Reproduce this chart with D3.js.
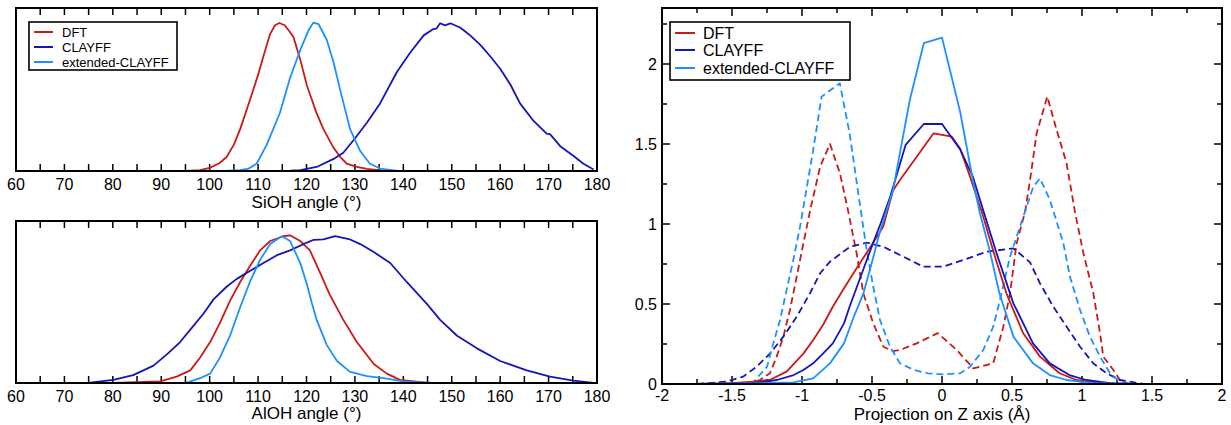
<!DOCTYPE html>
<html>
<head>
<meta charset="utf-8">
<script src="https://cdn.jsdelivr.net/npm/d3@7"></script>
<style>
  html, body { margin: 0; padding: 0; background: #fff; }
  svg { display: block; font-family: "Liberation Sans", Arial, Helvetica, sans-serif; }
</style>
</head>
<body>
<svg id="chart" width="1231" height="425"></svg>
<script>
// ---------------- DATA ----------------
const seriesNames = ["DFT", "CLAYFF", "extended-CLAYFF"];
const seriesColors = ["#c81a1a", "#1616b8", "#1e90ff"];

const angleTicks = [60, 70, 80, 90, 100, 110, 120, 130, 140, 150, 160, 170, 180];
const projTicksX = [-2, -1.5, -1, -0.5, 0, 0.5, 1, 1.5, 2];
const projTicksY = [0, 0.5, 1, 1.5, 2];

// SiOH angle distributions (normalised)
const siohDFT = [[95,0],[98,0.005],[100,0.02],[102,0.05],[103.5,0.09],[105,0.17],[106.3,0.27],[108.3,0.456],[110,0.62],[111.1,0.74],[112.5,0.885],[113.5,0.94],[114.4,0.955],[115.5,0.94],[116.5,0.9],[117.3,0.865],[118.7,0.72],[120.1,0.55],[120.7,0.497],[122,0.38],[123.5,0.27],[125.6,0.149],[127,0.09],[128.3,0.047],[130.4,0.026],[132.5,0.014],[134.9,0.006],[136,0]];
const siohCLAYFF = [[110,0],[116.6,0.002],[118.7,0.006],[122.1,0.026],[125.6,0.078],[127.6,0.118],[130,0.21],[132.5,0.313],[135.2,0.436],[138.7,0.64],[141.4,0.763],[144.2,0.875],[146.2,0.916],[146.8,0.918],[147.6,0.953],[148.6,0.94],[149.7,0.953],[151.7,0.926],[152.8,0.9],[153.8,0.875],[155.9,0.814],[157.9,0.742],[160,0.66],[162.1,0.558],[164.1,0.436],[166.9,0.323],[169.6,0.241],[170.3,0.238],[172.4,0.16],[175.1,0.098],[177.2,0.047],[179.3,0.01]];
const siohExt = [[103,0],[106.3,0.006],[108,0.015],[109.7,0.047],[111.8,0.17],[114.5,0.374],[116.6,0.6],[118.7,0.78],[120.4,0.906],[121.4,0.957],[122.5,0.947],[124.2,0.845],[125.6,0.7],[127,0.517],[129,0.27],[131.1,0.129],[133.1,0.047],[135.2,0.016],[139,0]];

// AlOH angle distributions (normalised)
const alohDFT = [[80,0],[89.8,0.01],[93.2,0.041],[96,0.082],[98,0.164],[100.1,0.266],[102.1,0.389],[104.2,0.533],[106.3,0.656],[108.3,0.758],[110.4,0.861],[112.5,0.922],[115.2,0.953],[116.6,0.959],[118.7,0.922],[120.7,0.861],[122.8,0.717],[124.8,0.574],[127.6,0.41],[130.4,0.266],[133.9,0.123],[136.6,0.061],[139.3,0.02],[144.2,0.004],[146,0]];
const alohCLAYFF = [[60,0],[75.3,0.002],[80.1,0.02],[84.2,0.051],[88.4,0.113],[91.1,0.184],[93.9,0.266],[96.6,0.369],[98.7,0.45],[100.8,0.543],[103.5,0.625],[105.6,0.676],[108.3,0.727],[111.1,0.779],[113.9,0.83],[116.6,0.861],[120.1,0.912],[121.5,0.93],[123.5,0.932],[125.9,0.953],[129,0.932],[131.1,0.902],[133.9,0.85],[137.3,0.779],[140.7,0.656],[144.9,0.512],[147.6,0.41],[151.1,0.307],[155.2,0.225],[160,0.143],[165.5,0.082],[170.3,0.041],[175.1,0.016],[179.3,0]];
const alohExt = [[60,0],[95.3,0.002],[98,0.031],[100.1,0.061],[102.1,0.164],[104.2,0.307],[106.3,0.492],[108.3,0.656],[110.4,0.799],[112.5,0.902],[114.9,0.953],[116.6,0.922],[118.7,0.78],[120.1,0.64],[121.1,0.52],[122.1,0.41],[124.2,0.246],[126.3,0.143],[129,0.072],[132.5,0.045],[135.9,0.031],[140,0.01],[145,0.003],[156,0]];

// Projection on Z axis: solid = one set, dashed = another set
const projDFT = [[-1.75,0],[-1.5,0.005],[-1.35,0.015],[-1.23,0.025],[-1.11,0.077],[-0.99,0.19],[-0.92,0.275],[-0.85,0.369],[-0.78,0.483],[-0.7,0.598],[-0.61,0.723],[-0.51,0.858],[-0.42,0.983],[-0.35,1.21],[-0.3,1.275],[-0.06,1.567],[0.07,1.546],[0.13,1.47],[0.2,1.296],[0.29,1.06],[0.37,0.82],[0.46,0.567],[0.58,0.317],[0.7,0.171],[0.84,0.067],[0.96,0.025],[1.1,0.008],[1.3,0]];
const projCLAYFF = [[-1.75,0],[-1.35,0.005],[-1.18,0.025],[-1.06,0.056],[-0.99,0.0875],[-0.92,0.129],[-0.85,0.19],[-0.78,0.254],[-0.7,0.379],[-0.66,0.483],[-0.59,0.65],[-0.51,0.84],[-0.44,1.0],[-0.37,1.17],[-0.26,1.494],[-0.13,1.625],[0,1.625],[0.13,1.465],[0.22,1.296],[0.3,1.07],[0.39,0.817],[0.51,0.504],[0.65,0.254],[0.77,0.129],[0.91,0.056],[1.03,0.025],[1.2,0.005],[1.35,0]];
const projExt = [[-1.75,0],[-1.35,0.003],[-1.06,0.01],[-0.92,0.035],[-0.8,0.129],[-0.7,0.254],[-0.63,0.42],[-0.56,0.57],[-0.49,0.796],[-0.44,0.9625],[-0.395,1.0875],[-0.35,1.21],[-0.23,1.775],[-0.13,2.13],[0,2.165],[0.13,1.7],[0.22,1.275],[0.27,1.07],[0.34,0.8375],[0.41,0.567],[0.51,0.296],[0.65,0.129],[0.77,0.056],[0.89,0.025],[1.08,0.005],[1.3,0]];
const projDFTd = [[-1.4,0],[-1.3,0.025],[-1.229,0.067],[-1.181,0.171],[-1.133,0.296],[-1.086,0.4625],[-1.038,0.67],[-0.99,0.879],[-0.943,1.08],[-0.871,1.358],[-0.8,1.5],[-0.729,1.317],[-0.669,1.075],[-0.61,0.817],[-0.562,0.567],[-0.491,0.379],[-0.419,0.233],[-0.35,0.205],[-0.3,0.2125],[-0.181,0.254],[-0.03,0.318],[0.105,0.2125],[0.224,0.098],[0.366,0.129],[0.438,0.358],[0.486,0.567],[0.533,0.879],[0.593,1.075],[0.629,1.275],[0.676,1.567],[0.752,1.796],[0.819,1.5875],[0.89,1.379],[0.95,1.075],[1.01,0.817],[1.081,0.567],[1.129,0.317],[1.152,0.171],[1.224,0.0875],[1.271,0.025],[1.34,0]];
const projCLAYFFd = [[-1.75,0],[-1.54,0.015],[-1.42,0.046],[-1.324,0.108],[-1.229,0.19],[-1.133,0.296],[-1.038,0.42],[-0.943,0.567],[-0.871,0.692],[-0.8,0.765],[-0.657,0.858],[-0.538,0.883],[-0.419,0.858],[-0.276,0.796],[-0.134,0.733],[0.009,0.733],[0.152,0.775],[0.319,0.827],[0.51,0.848],[0.629,0.76],[0.7,0.629],[0.795,0.483],[0.89,0.358],[0.986,0.233],[1.081,0.129],[1.176,0.067],[1.271,0.025],[1.44,0]];
const projExtd = [[-1.45,0],[-1.35,0.01],[-1.25,0.108],[-1.205,0.254],[-1.157,0.4],[-1.11,0.5875],[-1.062,0.775],[-1.014,0.983],[-0.92,1.4625],[-0.86,1.796],[-0.73,1.88],[-0.66,1.567],[-0.586,1.12],[-0.538,0.8375],[-0.491,0.608],[-0.443,0.4],[-0.371,0.233],[-0.3,0.129],[-0.2,0.0875],[-0.1,0.067],[0,0.06],[0.13,0.067],[0.2,0.108],[0.295,0.2125],[0.366,0.358],[0.414,0.525],[0.486,0.796],[0.557,0.983],[0.652,1.233],[0.7,1.285],[0.771,1.15],[0.867,0.879],[0.914,0.67],[0.986,0.4625],[1.057,0.296],[1.129,0.171],[1.2,0.067],[1.271,0.015],[1.35,0]];

// ---------------- DRAWING ----------------
const svg = d3.select("#chart");
const FONT = 16;
const TITLE_FONT = 17;

function frame(g, x0, y0, x1, y1) {
  g.append("rect").attr("x", x0).attr("y", y0).attr("width", x1 - x0).attr("height", y1 - y0)
    .attr("fill", "none").attr("stroke", "#000").attr("stroke-width", 2);
}

function drawLine(g, data, x, y, color, dashed, clipId) {
  const line = d3.line().x(d => x(d[0])).y(d => y(d[1]));
  g.append("path").datum(data)
    .attr("d", line)
    .attr("fill", "none")
    .attr("stroke", color)
    .attr("stroke-width", 1.8)
    .attr("stroke-linejoin", "round")
    .attr("stroke-dasharray", dashed ? "7,4" : null)
    .attr("clip-path", `url(#${clipId})`);
}

function addClip(id, x0, y0, x1, y1) {
  svg.append("clipPath").attr("id", id).append("rect")
    .attr("x", x0).attr("y", y0).attr("width", x1 - x0).attr("height", y1 - y0);
}

function legend(g, x0, y0, w, h, rowY, lineX0, lineX1, textX, fontSize) {
  g.append("rect").attr("x", x0).attr("y", y0).attr("width", w).attr("height", h)
    .attr("fill", "#fff").attr("stroke", "#000").attr("stroke-width", 1.6);
  seriesNames.forEach((name, i) => {
    const yy = rowY[i];
    g.append("line").attr("x1", lineX0).attr("x2", lineX1).attr("y1", yy).attr("y2", yy)
      .attr("stroke", seriesColors[i]).attr("stroke-width", 2);
    g.append("text").attr("x", textX).attr("y", yy).attr("dy", "0.35em")
      .attr("font-size", fontSize).attr("fill", "#000").text(name);
  });
}

// ---- Angle panels ----
function anglePanel(top, bottom, labelY, titleY, title, sets, clipId, legendOn) {
  const L = 16, R = 597;
  const x = d3.scaleLinear().domain([60, 180]).range([L, R]);
  const y = d3.scaleLinear().domain([0, 1]).range([bottom, top + 8]);
  const g = svg.append("g");
  addClip(clipId, L, top, R, bottom);
  const minor = d3.range(65, 180, 10);
  const all = angleTicks.concat(minor);
  all.forEach(t => {
    g.append("line").attr("x1", x(t)).attr("x2", x(t)).attr("y1", bottom).attr("y2", bottom - 7)
      .attr("stroke", "#000").attr("stroke-width", 1.5);
    g.append("line").attr("x1", x(t)).attr("x2", x(t)).attr("y1", top).attr("y2", top + 7)
      .attr("stroke", "#000").attr("stroke-width", 1.5);
  });
  angleTicks.forEach(t => {
    g.append("text").attr("x", x(t)).attr("y", labelY).attr("text-anchor", "middle")
      .attr("font-size", FONT).attr("fill", "#000").text(t);
  });
  g.append("text").attr("x", (L + R) / 2).attr("y", titleY).attr("text-anchor", "middle")
    .attr("font-size", TITLE_FONT).attr("fill", "#000").text(title);
  sets.forEach((s, i) => drawLine(g, s, x, y, seriesColors[i], false, clipId));
  frame(g, L, top, R, bottom);
  if (legendOn) legend(g, 29, 22, 148, 48, [32, 47, 62], 34, 53, 62, 13);
}

anglePanel(8, 171, 190, 208, "SiOH angle (°)", [siohDFT, siohCLAYFF, siohExt], "clipA", true);
anglePanel(221, 383, 402, 419, "AlOH angle (°)", [alohDFT, alohCLAYFF, alohExt], "clipB", false);

// ---- Projection panel ----
(function () {
  const L = 662, R = 1222, T = 8, B = 384;
  const x = d3.scaleLinear().domain([-2, 2]).range([L, R]);
  const y = d3.scaleLinear().domain([0, 2.35]).range([B, T]);
  const g = svg.append("g");
  addClip("clipC", L, T, R, B);
  const xMinor = d3.range(-1.75, 2, 0.5);
  const yMinor = [0.25, 0.75, 1.25, 1.75, 2.25];
  const tk = (x1, y1, x2, y2) => g.append("line").attr("x1", x1).attr("y1", y1).attr("x2", x2).attr("y2", y2)
    .attr("stroke", "#000").attr("stroke-width", 1.5);
  projTicksX.forEach(t => { tk(x(t), B, x(t), B - 8); tk(x(t), T, x(t), T + 8); });
  xMinor.forEach(t => { tk(x(t), B, x(t), B - 5); tk(x(t), T, x(t), T + 5); });
  projTicksY.forEach(t => { tk(L, y(t), L + 8, y(t)); tk(R, y(t), R - 8, y(t)); });
  yMinor.forEach(t => { tk(L, y(t), L + 5, y(t)); tk(R, y(t), R - 5, y(t)); });
  projTicksX.forEach(t => {
    g.append("text").attr("x", x(t)).attr("y", 401).attr("text-anchor", "middle")
      .attr("font-size", FONT).attr("fill", "#000").text(t);
  });
  projTicksY.forEach(t => {
    g.append("text").attr("x", L - 5).attr("y", y(t)).attr("dy", "0.35em").attr("text-anchor", "end")
      .attr("font-size", FONT).attr("fill", "#000").text(t);
  });
  g.append("text").attr("x", (L + R) / 2).attr("y", 420).attr("text-anchor", "middle")
    .attr("font-size", TITLE_FONT).attr("fill", "#000").text("Projection on Z axis (Å)");
  [projDFTd, projCLAYFFd, projExtd].forEach((s, i) => drawLine(g, s, x, y, seriesColors[i], true, "clipC"));
  [projDFT, projCLAYFF, projExt].forEach((s, i) => drawLine(g, s, x, y, seriesColors[i], false, "clipC"));
  frame(g, L, T, R, B);
  legend(g, 670, 22, 180, 58, [33, 50, 68], 675, 695, 703, 16);
})();
</script>
</body>
</html>
